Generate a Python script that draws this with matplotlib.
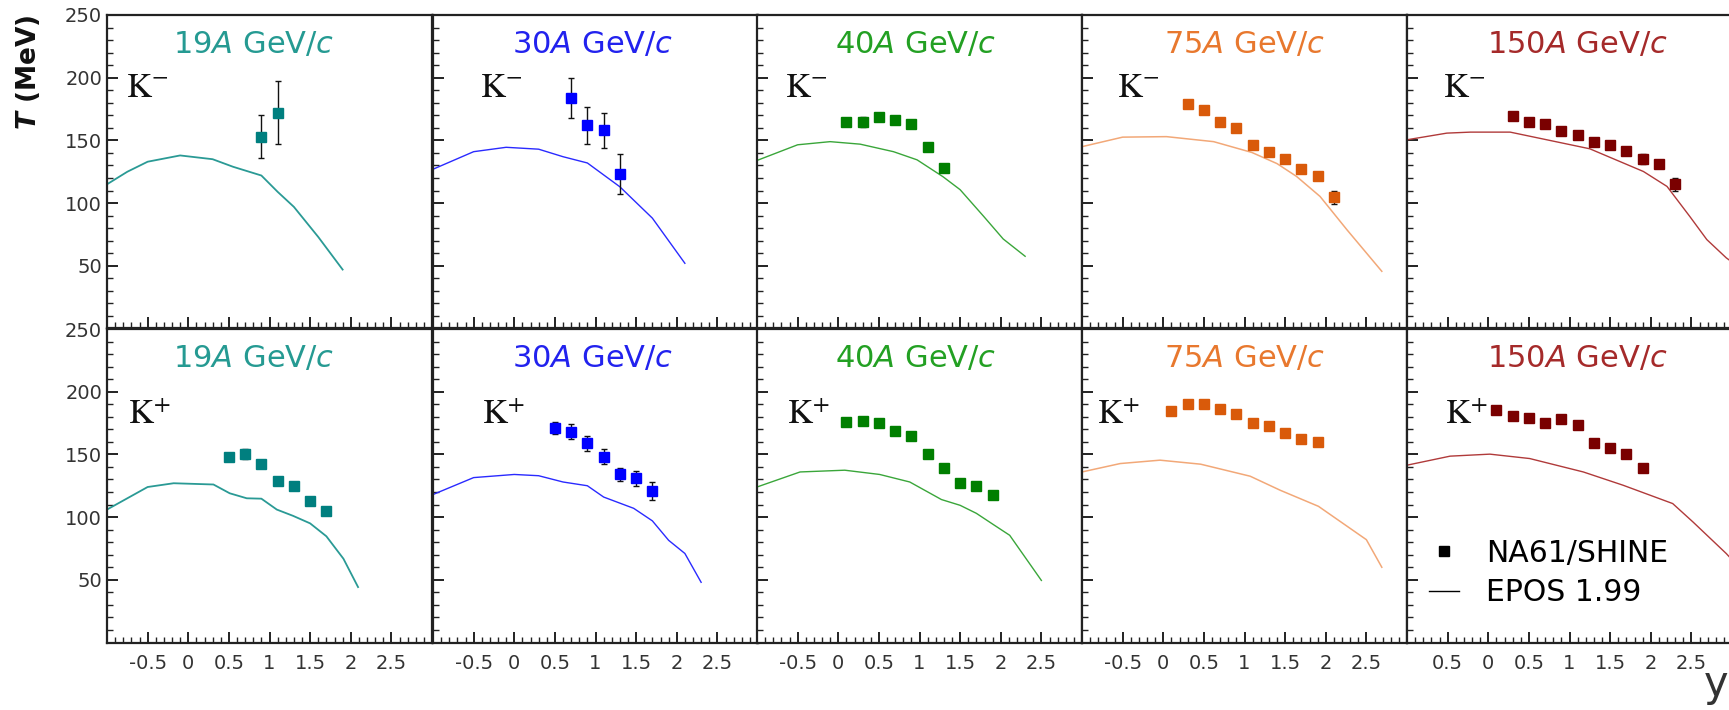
import matplotlib

matplotlib.use("Agg")

import matplotlib.pyplot as plt
from matplotlib.lines import Line2D

# ---- data ---------------------------------------------------------------
energies = ["19", "30", "40", "75", "150"]

# K- (top row), NA61/SHINE points
km19_y = [0.9, 1.1]
km19_T = [153, 172]
km19_err = [17, 25]
km30_y = [0.7, 0.9, 1.1, 1.3]
km30_T = [184, 162, 158, 123]
km30_err = [16, 15, 14, 16]
km40_y = [0.1, 0.3, 0.5, 0.7, 0.9, 1.1, 1.3]
km40_T = [165, 165, 169, 166, 163, 145, 128]
km40_err = [3, 4, 3, 3, 3, 3, 3]
km75_y = [0.3, 0.5, 0.7, 0.9, 1.1, 1.3, 1.5, 1.7, 1.9, 2.1]
km75_T = [179, 174, 165, 160, 146.5, 140.5, 135.5, 127, 122, 104.5]
km75_err = [2, 2, 2, 2, 2, 2, 2, 2, 3, 5]
km150_y = [0.3, 0.5, 0.7, 0.9, 1.1, 1.3, 1.5, 1.7, 1.9, 2.1, 2.3]
km150_T = [169.5, 164.5, 163, 157.5, 154.5, 149, 146.5, 141.5, 135, 131, 115]
km150_err = [2, 2, 2, 2, 2, 2, 2, 2, 4, 3, 5]

# K+ (bottom row), NA61/SHINE points
kp19_y = [0.5, 0.7, 0.9, 1.1, 1.3, 1.5, 1.7]
kp19_T = [148, 150, 142, 129, 125, 113, 105]
kp19_err = [3, 4, 3, 3, 3, 3, 3]
kp30_y = [0.5, 0.7, 0.9, 1.1, 1.3, 1.5, 1.7]
kp30_T = [171, 168, 159, 148, 134, 131, 121]
kp30_err = [5, 6, 6, 6, 5, 6, 7]
kp40_y = [0.1, 0.3, 0.5, 0.7, 0.9, 1.1, 1.3, 1.5, 1.7, 1.9]
kp40_T = [175.5, 177, 175, 169, 165, 150, 139.5, 127, 124.5, 117.5]
kp40_err = [2, 2, 2, 2, 2, 2, 2, 2, 2, 2]
kp75_y = [0.1, 0.3, 0.5, 0.7, 0.9, 1.1, 1.3, 1.5, 1.7, 1.9]
kp75_T = [185, 190, 190, 186, 182, 175, 172.5, 167, 162, 159.5]
kp75_err = [2, 2, 2, 2, 2, 2, 2, 2, 2, 2]
kp150_y = [0.1, 0.3, 0.5, 0.7, 0.9, 1.1, 1.3, 1.5, 1.7, 1.9]
kp150_T = [185.5, 180.5, 179, 175, 178, 173.5, 159, 155.5, 150, 139]
kp150_err = [2, 2, 2, 2, 2, 2, 2, 2, 2, 2]

# EPOS 1.99 curves, K-
epos_km19_y = [-1.0, -0.75, -0.5, -0.1, 0.3, 0.55, 0.9, 1.1, 1.3, 1.6, 1.9]
epos_km19_T = [115, 125, 133, 138, 135, 129, 122, 109, 97, 73, 47]
epos_km30_y = [-1.0, -0.5, -0.1, 0.3, 0.6, 0.9, 1.3, 1.7, 2.1]
epos_km30_T = [127, 141, 144.5, 143, 137, 132, 113, 88, 52]
epos_km40_y = [-1.0, -0.5, -0.1, 0.27, 0.68, 0.97, 1.29, 1.5, 1.79, 2.03, 2.3]
epos_km40_T = [134, 146.5, 149, 147, 141, 134.5, 121, 110.7, 89.4, 71.4, 57.6]
epos_km75_y = [-1.0, -0.5, 0.04, 0.62, 1.09, 1.4, 1.64, 1.93, 2.26, 2.69]
epos_km75_T = [145, 152.6, 153, 149, 140.4, 131.5, 121.3, 105.3, 78.8, 45.6]
epos_km150_y = [-1.0, -0.51, -0.22, 0.27, 0.72, 1.25, 1.91, 2.2, 2.48, 2.69, 2.93, 3.0]
epos_km150_T = [150.5, 155.8, 156.6, 156.6, 150.5, 143.3, 125.2, 113.3, 89.4, 70.9, 56.3, 53]

# EPOS 1.99 curves, K+
epos_kp19_y = [-1.0, -0.5, -0.18, 0.31, 0.51, 0.72, 0.9, 1.09, 1.29, 1.5, 1.7, 1.91, 2.09]
epos_kp19_T = [106, 124, 127, 126, 119, 115, 114.7, 106, 101, 95, 84.7, 66.8, 44.2]
epos_kp30_y = [-1.0, -0.5, 0.0, 0.3, 0.6, 0.9, 1.1, 1.47, 1.7, 1.9, 2.1, 2.3]
epos_kp30_T = [118, 131.5, 134, 133, 128, 125, 116, 107, 97, 81.5, 71, 48]
epos_kp40_y = [-1.0, -0.47, 0.08, 0.51, 0.88, 1.27, 1.5, 1.7, 1.91, 2.11, 2.5]
epos_kp40_T = [124, 136, 137.4, 134, 128, 114, 109.4, 103, 94, 85.5, 49.5]
epos_kp75_y = [-1.0, -0.53, -0.04, 0.46, 1.07, 1.44, 1.91, 2.5, 2.69]
epos_kp75_T = [136, 142.7, 145.4, 142.2, 132.6, 121.4, 108.6, 82, 60]
epos_kp150_y = [-1.0, -0.47, 0.02, 0.51, 1.17, 1.66, 2.27, 2.52, 2.93, 3.0]
epos_kp150_T = [141.4, 148.6, 150.2, 146.7, 136, 125.4, 110.8, 96.1, 70.9, 66]

y_ticks = [0, 50, 100, 150, 200, 250]
y_tick_labels = ["", "50", "100", "150", "200", "250"]
x_ticks = [-0.5, 0, 0.5, 1, 1.5, 2, 2.5]
x_tick_labels = ["-0.5", "0", "0.5", "1", "1.5", "2", "2.5"]
x_tick_labels_last = ["0.5", "0", "0.5", "1", "1.5", "2", "2.5"]

# ---- styles ---------------------------------------------------------------
marker_colors = ["#007f7f", "#0000ff", "#007f00", "#d95a0a", "#7a0000"]
line_colors = ["#2a9a95", "#2a2aff", "#3aa63a", "#f2a878", "#b03a3a"]
title_colors = ["#259a92", "#2222ee", "#23a023", "#e8782e", "#a52a2a"]
line_widths = [1.3, 1.0, 1.0, 1.1, 1.0]
title_x = [0.45, 0.49, 0.487, 0.50, 0.525]
label_x_top = [0.06, 0.145, 0.086, 0.108, 0.11]
label_x_bot = [0.065, 0.15, 0.092, 0.046, 0.117]

top_points = [
    (km19_y, km19_T, km19_err),
    (km30_y, km30_T, km30_err),
    (km40_y, km40_T, km40_err),
    (km75_y, km75_T, km75_err),
    (km150_y, km150_T, km150_err),
]
bot_points = [
    (kp19_y, kp19_T, kp19_err),
    (kp30_y, kp30_T, kp30_err),
    (kp40_y, kp40_T, kp40_err),
    (kp75_y, kp75_T, kp75_err),
    (kp150_y, kp150_T, kp150_err),
]
top_epos = [
    (epos_km19_y, epos_km19_T),
    (epos_km30_y, epos_km30_T),
    (epos_km40_y, epos_km40_T),
    (epos_km75_y, epos_km75_T),
    (epos_km150_y, epos_km150_T),
]
bot_epos = [
    (epos_kp19_y, epos_kp19_T),
    (epos_kp30_y, epos_kp30_T),
    (epos_kp40_y, epos_kp40_T),
    (epos_kp75_y, epos_kp75_T),
    (epos_kp150_y, epos_kp150_T),
]

W, H = 1729, 710
panel_left = [107, 433, 757, 1082, 1407]
panel_w = 325
row_top = [15, 329]
row_h = 313.5

fig = plt.figure(figsize=(W / 100, H / 100), dpi=100)
fig.patch.set_facecolor("white")

for row in range(2):
    points = top_points if row == 0 else bot_points
    epos = top_epos if row == 0 else bot_epos
    kname = r"$\mathrm{K}^{-}$" if row == 0 else r"$\mathrm{K}^{+}$"
    label_x = label_x_top if row == 0 else label_x_bot
    label_y = 0.77 if row == 0 else 0.73
    for i in range(5):
        rect = [
            panel_left[i] / W,
            1 - (row_top[row] + row_h) / H,
            panel_w / W,
            row_h / H,
        ]
        ax = fig.add_axes(rect)
        ax.set_xlim(-1, 3)
        ax.set_ylim(0, 250)

        ey, eT = epos[i]
        ax.plot(ey, eT, color=line_colors[i], lw=line_widths[i], zorder=2)
        py, pT, perr = points[i]
        ax.errorbar(
            py, pT, yerr=perr, fmt="s", color=marker_colors[i], ms=7.5,
            mec=marker_colors[i], ecolor="#111111", elinewidth=1.0,
            capsize=2.5, capthick=1.0, zorder=3,
        )

        ax.text(
            title_x[i], 0.905, f"{energies[i]}$A$ GeV/$c$",
            transform=ax.transAxes, ha="center", va="center",
            fontsize=22, color=title_colors[i], math_fontfamily="dejavusans",
        )
        ax.text(
            label_x[i], label_y, kname, transform=ax.transAxes,
            ha="left", va="center", fontsize=25, color="#111111",
            math_fontfamily="stix",
        )

        for side in ["left", "right", "top", "bottom"]:
            ax.spines[side].set_linewidth(1.6)
            ax.spines[side].set_color("#222222")
        ax.set_yticks(y_ticks)
        ax.set_yticks(range(0, 251, 10), minor=True)
        ax.set_xticks([-1.0] + x_ticks + [3.0])
        ax.set_xticks([v / 10 for v in range(-10, 31)], minor=True)
        ax.tick_params(axis="both", which="major", direction="in", length=8,
                       width=1.4, color="#222222", labelsize=14,
                       labelcolor="#333333", top=False, right=False)
        ax.tick_params(axis="both", which="minor", direction="in", length=4,
                       width=1.0, color="#222222", top=False, right=False)
        if i == 0:
            ax.set_yticklabels(y_tick_labels)
        else:
            ax.set_yticklabels([])
        if row == 1:
            labels = x_tick_labels_last if i == 4 else x_tick_labels
            ax.set_xticklabels([""] + labels + [""])
            ax.tick_params(axis="x", pad=8)
        else:
            ax.set_xticklabels([])

        if row == 1 and i == 4:
            handles = [
                Line2D([], [], marker="s", color="black", ls="none", ms=7),
                Line2D([], [], color="black", lw=1.0),
            ]
            ax.legend(
                handles, ["NA61/SHINE", "EPOS 1.99"], loc="center left",
                bbox_to_anchor=(0.068, 0.222), frameon=False, fontsize=21.5,
                handlelength=1.0, handletextpad=0.9, labelspacing=0.35,
                borderpad=0, borderaxespad=0,
            )

fig.text(28 / W, 1 - 72 / H, r"$\mathbfit{T}$ (MeV)", rotation=90,
         ha="center", va="center", fontsize=19, fontweight="bold",
         color="#111111", math_fontfamily="dejavusans")
fig.text(1716 / W, 1 - 684 / H, "y", ha="center", va="center",
         fontsize=30, color="#333333")

fig.savefig("out.png", dpi=100)
plt.close(fig)
